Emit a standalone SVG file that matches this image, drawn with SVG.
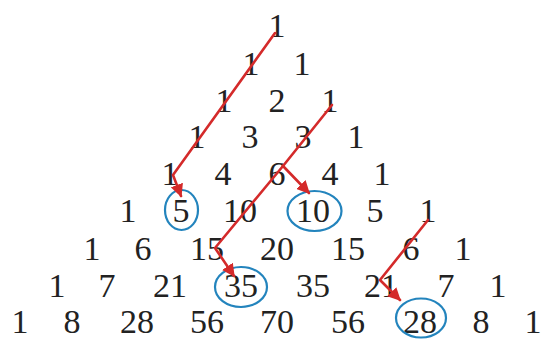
<svg xmlns="http://www.w3.org/2000/svg" width="541" height="340" viewBox="0 0 541 340">
<style>
text{font-family:"Liberation Serif","DejaVu Serif",serif;font-size:34px;fill:#222;text-anchor:middle}
.ring{fill:none;stroke:#2384bd;stroke-width:2.2}
.red{fill:none;stroke:#d42a2a;stroke-width:2.6;stroke-linecap:round;stroke-linejoin:round}
</style>
<defs>
<marker id="ah" viewBox="0 0 10 10" refX="9" refY="5" markerWidth="5" markerHeight="5" orient="auto" markerUnits="strokeWidth">
<path d="M0,0 L10,5 L0,10 Z" fill="#d42a2a"/>
</marker>
</defs>
<rect width="541" height="340" fill="#fff"/>
<g id="row0"><g id="n0_0"><text x="277" y="37">1</text></g></g>
<g id="row1"><g id="n1_0"><text x="251" y="75">1</text></g><g id="n1_1"><text x="302" y="75">1</text></g></g>
<g id="row2"><g id="n2_0"><text x="224" y="112">1</text></g><g id="n2_1"><text x="277" y="112">2</text></g><g id="n2_2"><text x="330" y="112">1</text></g></g>
<g id="row3"><g id="n3_0"><text x="197" y="148">1</text></g><g id="n3_1"><text x="250" y="148">3</text></g><g id="n3_2"><text x="303" y="148">3</text></g><g id="n3_3"><text x="356" y="148">1</text></g></g>
<g id="row4"><g id="n4_0"><text x="170" y="185">1</text></g><g id="n4_1"><text x="223" y="185">4</text></g><g id="n4_2"><text x="277" y="185">6</text></g><g id="n4_3"><text x="330" y="185">4</text></g><g id="n4_4"><text x="382" y="185">1</text></g></g>
<g id="row5"><g id="n5_0"><text x="128" y="222">1</text></g><g id="n5_1"><text x="181" y="222">5</text><ellipse class="ring" cx="181.5" cy="210" rx="16.5" ry="20"/></g><g id="n5_2"><text x="240" y="222">10</text></g><g id="n5_3"><text x="313" y="222">10</text><ellipse class="ring" cx="314.5" cy="211" rx="27" ry="20"/></g><g id="n5_4"><text x="375" y="222">5</text></g><g id="n5_5"><text x="428" y="222">1</text></g></g>
<g id="row6"><g id="n6_0"><text x="92" y="260">1</text></g><g id="n6_1"><text x="143" y="260">6</text></g><g id="n6_2"><text x="207" y="260">15</text></g><g id="n6_3"><text x="277" y="260">20</text></g><g id="n6_4"><text x="348" y="260">15</text></g><g id="n6_5"><text x="411" y="260">6</text></g><g id="n6_6"><text x="463" y="260">1</text></g></g>
<g id="row7"><g id="n7_0"><text x="57" y="297">1</text></g><g id="n7_1"><text x="107" y="297">7</text></g><g id="n7_2"><text x="170" y="297">21</text></g><g id="n7_3"><text x="241" y="297">35</text><ellipse class="ring" cx="241" cy="287" rx="26" ry="20"/></g><g id="n7_4"><text x="313" y="297">35</text></g><g id="n7_5"><text x="381" y="297">21</text></g><g id="n7_6"><text x="446" y="297">7</text></g><g id="n7_7"><text x="498" y="297">1</text></g></g>
<g id="row8"><g id="n8_0"><text x="20" y="333">1</text></g><g id="n8_1"><text x="72" y="333">8</text></g><g id="n8_2"><text x="137" y="333">28</text></g><g id="n8_3"><text x="207" y="333">56</text></g><g id="n8_4"><text x="277" y="333">70</text></g><g id="n8_5"><text x="348" y="333">56</text></g><g id="n8_6"><text x="420" y="333">28</text><ellipse class="ring" cx="421" cy="318" rx="25" ry="19.5"/></g><g id="n8_7"><text x="481" y="333">8</text></g><g id="n8_8"><text x="533" y="333">1</text></g></g>
<g id="connectors">
<polyline class="red" points="275,33 173,175 181,196" marker-end="url(#ah)"/>
<polyline class="red" points="332,105 283,166"/>
<line class="red" x1="283" y1="166" x2="309" y2="193" marker-end="url(#ah)"/>
<polyline class="red" points="283,166 215,248 234,276" marker-end="url(#ah)"/>
<polyline class="red" points="428,220 380,280 400,300" marker-end="url(#ah)"/>
</g>
</svg>
